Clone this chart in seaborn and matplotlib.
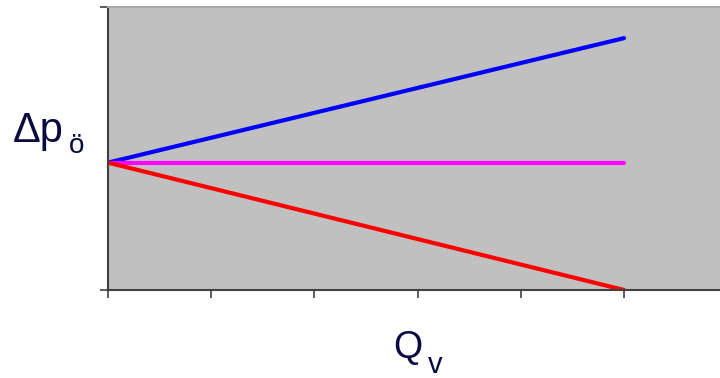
import pandas as pd
import matplotlib
matplotlib.use('Agg')
import matplotlib.pyplot as plt
import seaborn as sns

# volume flow (x) and pressure drop (y), arbitrary units
q = [0, 5]
dp_rising = [0.45, 0.89]
dp_const = [0.45, 0.45]
dp_falling = [0.45, 0.0]

series_names = ['rising', 'const', 'falling']
series_colors = {'rising': '#0000FF', 'const': '#FF00FF', 'falling': '#FF0000'}

df = pd.DataFrame({
    'Qv': q * 3,
    'dp': dp_rising + dp_const + dp_falling,
    'curve': [n for n in series_names for _ in q],
})

sns.set_style('white')
plt.rcParams['font.family'] = ['Liberation Sans', 'DejaVu Sans']

fig = plt.figure(figsize=(7.2, 3.78), dpi=100)
ax = fig.add_axes([108 / 720, 88 / 378, 1 - 108 / 720, 283 / 378])
ax.set_facecolor('#C0C0C0')

sns.lineplot(data=df, x='Qv', y='dp', hue='curve', palette=series_colors,
             hue_order=series_names, linewidth=3, legend=False, ax=ax)

ax.set_xlim(0, 5.93)
ax.set_ylim(0, 1)
ax.set_xticks(range(6))
ax.set_yticks([0, 1])
ax.set_xticklabels([])
ax.set_yticklabels([])
ax.set_xlabel('')
ax.set_ylabel('')
ax.tick_params(axis='both', direction='out', length=6, width=1.2, color='#404040',
               bottom=True, left=True)

ax.spines['left'].set_color('#404040')
ax.spines['left'].set_linewidth(1.5)
ax.spines['bottom'].set_color('#404040')
ax.spines['bottom'].set_linewidth(1.5)
ax.spines['top'].set_color('#A8A8A8')
ax.spines['top'].set_linewidth(1.5)
ax.spines['right'].set_visible(False)

txt = '#0A0A40'
fig.text(13 / 720, (378 - 142) / 378, '\u0394p', fontsize=30, color=txt, va='baseline')
fig.text(69 / 720, (378 - 153) / 378, '\u00f6', fontsize=20, color=txt, va='baseline')
fig.text(393 / 720, (378 - 358) / 378, 'Q', fontsize=27, color=txt, va='baseline')
fig.text(428 / 720, (378 - 373) / 378, 'v', fontsize=21, color=txt, va='baseline')

fig.savefig('out.png', dpi=100)
